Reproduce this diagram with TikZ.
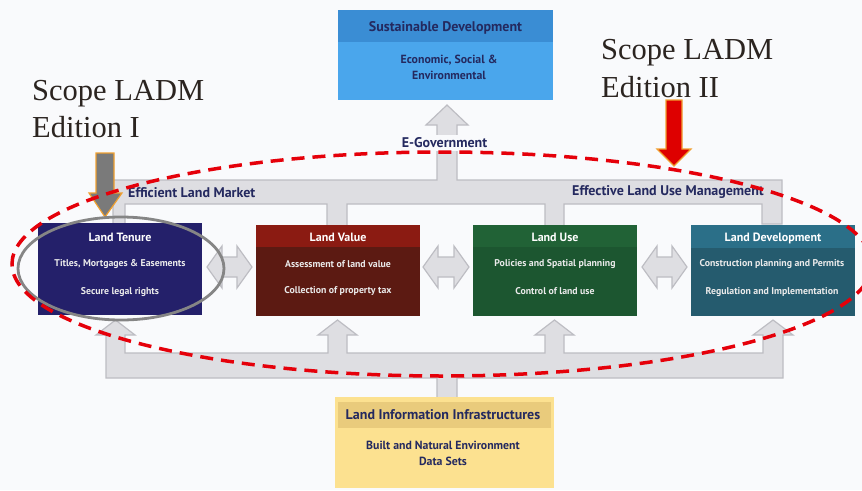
\documentclass[tikz,border=0pt]{standalone}
\usepackage{fontspec}
\setmainfont{Liberation Serif}
\setsansfont{PT Sans}
\definecolor{bg}{HTML}{F9FAFC}
\definecolor{busfill}{HTML}{DEDEE2}
\definecolor{busline}{HTML}{BDBDC3}
\definecolor{navy}{HTML}{24295F}
\definecolor{sdhdr}{HTML}{3A8DD4}
\definecolor{sdbody}{HTML}{4AA6EC}
\definecolor{tenurec}{HTML}{24206A}
\definecolor{valhdr}{HTML}{8B1B12}
\definecolor{valbody}{HTML}{5C1A12}
\definecolor{usehdr}{HTML}{216236}
\definecolor{usebody}{HTML}{1C5630}
\definecolor{devhdr}{HTML}{2B6F88}
\definecolor{devbody}{HTML}{255B6E}
\definecolor{lihdr}{HTML}{E9CB7C}
\definecolor{libody}{HTML}{FCE190}
\definecolor{scopec}{HTML}{2B2420}
\definecolor{dashred}{HTML}{E5000A}
\definecolor{edorange}{HTML}{F0A030}
\definecolor{edred}{HTML}{DE0000}
\definecolor{edgray}{HTML}{7A7A7A}
\tikzset{
  bus/.style={fill=busfill, draw=busline, line width=1.2pt, line join=miter},
  box/.style={draw=none, rectangle, inner sep=0pt},
  boxtitle/.style={font=\sffamily\bfseries\fontsize{12}{14}\selectfont, text=white, inner sep=0pt},
  boxline/.style={font=\sffamily\bfseries\fontsize{9.8}{11}\selectfont, text=white!92!black, inner sep=0pt},
  navytitle/.style={font=\sffamily\bfseries\fontsize{14}{16}\selectfont, text=navy, inner sep=0pt},
  navyline/.style={font=\sffamily\bfseries\fontsize{11.8}{13}\selectfont, text=navy, inner sep=0pt},
  buslabel/.style={font=\sffamily\bfseries\fontsize{14}{16}\selectfont, text=navy, inner sep=0pt},
  scope/.style={font=\fontsize{30.5}{36}\selectfont, text=scopec, inner sep=0pt},
  edarrow/.style={draw=edorange, line width=1.2pt, line join=miter},
}
\begin{document}
\begin{tikzpicture}[x=1pt,y=-1pt]
\useasboundingbox (0,0) rectangle (862,490);
\fill[bg] (0,0) rectangle (862,490);

% top bus
\draw[bus] (113,224) -- (113,180) -- (437,180) -- (437,125) -- (426,125) -- (447,105) -- (468,125) -- (457,125) -- (457,180) -- (782,180) -- (782,224) -- (762,224) -- (762,204) -- (564,204) -- (564,226) -- (545,226) -- (545,204) -- (347,204) -- (347,226) -- (327,226) -- (327,204) -- (125,204) -- (125,224) -- cycle;
% bottom bus
\draw[bus] (437,398) -- (437,378) -- (106,378) -- (106,335) -- (96,335) -- (115.5,320) -- (135,335) -- (125,335) -- (125,353) -- (328,353) -- (328,335) -- (318,335) -- (337.5,320) -- (357,335) -- (347,335) -- (347,353) -- (545,353) -- (545,335) -- (535,335) -- (554.5,320) -- (574,335) -- (564,335) -- (564,353) -- (763,353) -- (763,335) -- (753,335) -- (773,320) -- (793,335) -- (783,335) -- (783,378) -- (457,378) -- (457,398) -- cycle;

% double arrows
\foreach \a/\b in {207/252, 423/469, 642/687}{
  \draw[bus] (\a,267) -- (\a+15,246) -- (\a+15,257) -- (\b-15,257) -- (\b-15,246) -- (\b,267) -- (\b-15,288) -- (\b-15,277) -- (\a+15,277) -- (\a+15,288) -- cycle;
}

% Sustainable development
\node[box, fill=sdbody, minimum width=215pt, minimum height=90pt] (sd) at (445.5,55) {};
\fill[sdhdr] (sd.north west) rectangle ([yshift=-32pt]sd.north east);
\node[navytitle] (sdT) at (445.5,28) {Sustainable Development};
\node[navyline] (sdA) at (449,60) {Economic, Social \&};
\node[navyline] (sdB) at (449,75) {Environmental};
\node[buslabel, fill=bg, inner xsep=2pt, inner ysep=3pt] (egov) at (444.5,143) {E-Government};

% labels on top bus
\node[buslabel, anchor=west] (elm) at (128,193) {Efficient Land Market};
\node[buslabel, anchor=west] (elum) at (572,192) {Effective Land Use Management};

% boxes
\node[box, fill=tenurec, minimum width=164pt, minimum height=92pt] (tenure) at (120,269) {};
\node[box, fill=valbody, minimum width=164pt, minimum height=91pt] (value) at (338,270.5) {};
\fill[valhdr] (value.north west) rectangle ([yshift=-22pt]value.north east);
\node[box, fill=usebody, minimum width=164pt, minimum height=91pt] (use) at (555,270.5) {};
\fill[usehdr] (use.north west) rectangle ([yshift=-22pt]use.north east);
\node[box, fill=devbody, minimum width=164pt, minimum height=91pt] (dev) at (773,270.5) {};
\fill[devhdr] (dev.north west) rectangle ([yshift=-23pt]dev.north east);

\node[boxtitle] (tenureT) at (120,237) {Land Tenure};
\node[boxline] (tenureA) at (120,264) {Titles, Mortgages \& Easements};
\node[boxline] (tenureB) at (120,292) {Secure legal rights};
\node[boxtitle] (valueT) at (338,237) {Land Value};
\node[boxline] (valueA) at (338,264) {Assessment of land value};
\node[boxline] (valueB) at (338,291) {Collection of property tax};
\node[boxtitle] (useT) at (555,237) {Land Use};
\node[boxline] (useA) at (555,264) {Policies and Spatial planning};
\node[boxline] (useB) at (555,291) {Control of land use};
\node[boxtitle] (devT) at (773,238) {Land Development};
\node[boxline] (devA) at (772,264) {Construction planning and Permits};
\node[boxline] (devB) at (772,292) {Regulation and Implementation};

% land information box
\node[box, fill=libody, minimum width=219pt, minimum height=91pt] (li) at (444.5,442.5) {};
\fill[lihdr] ([xshift=3pt,yshift=-5pt]li.north west) rectangle ([xshift=-3pt,yshift=-31pt]li.north east);
\node[navytitle] (liT) at (443,415) {Land Information Infrastructures};
\node[navyline] (liA) at (443,445) {Built and Natural Environment};
\node[navyline] (liB) at (443,461) {Data Sets};

% scope arrows
\draw[edarrow, fill=edgray] (96,153) -- (114,153) -- (114,193) -- (122,193) -- (105,217) -- (89,193) -- (96,193) -- cycle;
\draw[edarrow, fill=edred] (666,100) -- (682,100) -- (682,149) -- (691,149) -- (674,166) -- (657,149) -- (666,149) -- cycle;

% ellipses
\draw[draw=black!48, line width=2.8pt] (121,268.5) ellipse [x radius=103, y radius=51.5];
\draw[dashred, line width=3.5pt, dash pattern=on 13pt off 8pt] (442,264) ellipse [x radius=430, y radius=112];

% scope labels
\node[scope, anchor=base west] (s1a) at (32,100) {Scope LADM};
\node[scope, anchor=base west] (s1b) at (32,137) {Edition I};
\node[scope, anchor=base west] (s2a) at (601,59) {Scope LADM};
\node[scope, anchor=base west] (s2b) at (601,97) {Edition II};
\end{tikzpicture}
\end{document}
